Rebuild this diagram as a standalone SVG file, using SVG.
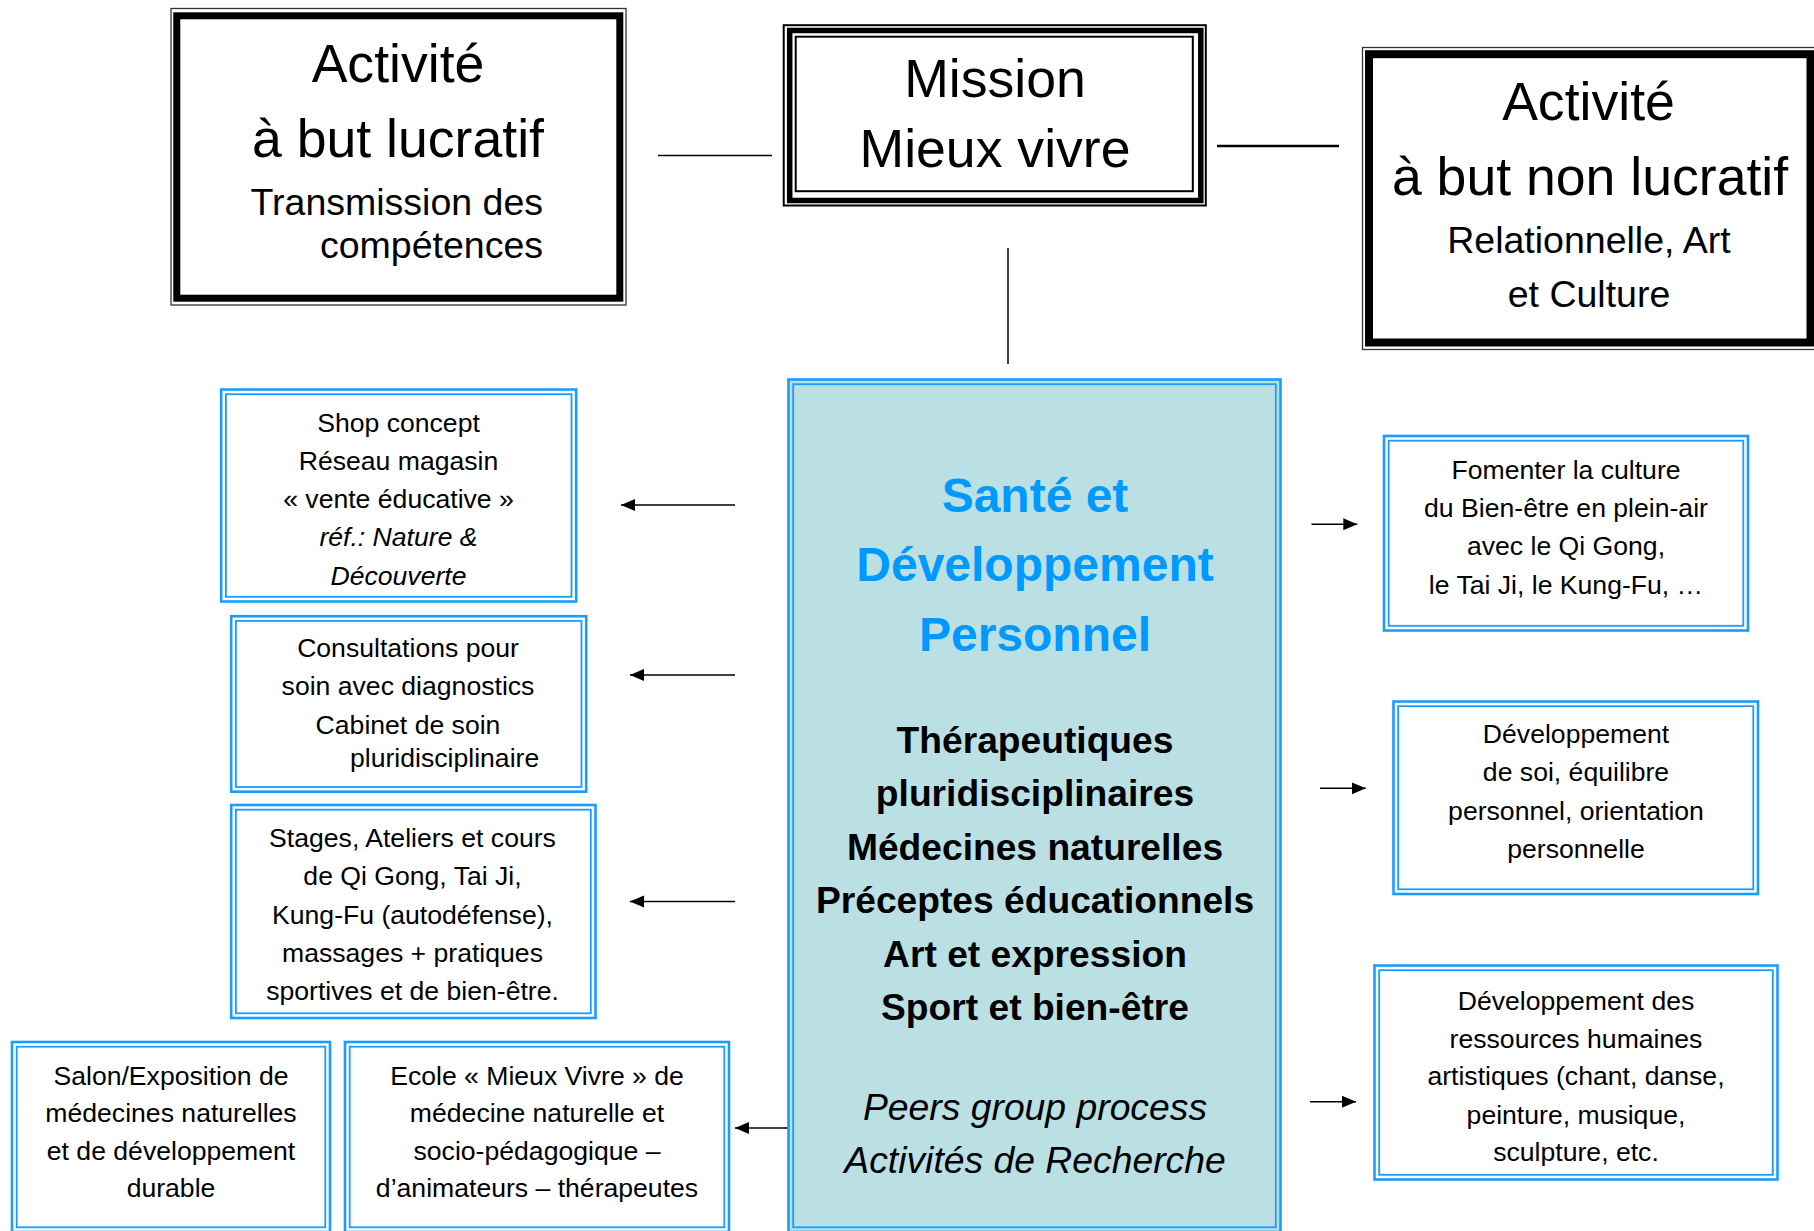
<svg xmlns="http://www.w3.org/2000/svg" width="1814" height="1231" viewBox="0 0 1814 1231">
<defs>
<style>
text{font-family:"Liberation Sans",Arial,sans-serif;fill:#000;text-anchor:middle}
.big{font-size:53.6px}
.mid{font-size:37.5px}
.sm{font-size:26.6px}
.it{font-style:italic}
.title{font-size:48px;font-weight:bold;fill:#0099ff}
.bold{font-size:37.2px;font-weight:bold}
.peer{font-size:37.3px;font-style:italic}
.bo{fill:none;stroke:#1a9cff;stroke-width:2.6}
.bi{fill:none;stroke:#1a9cff;stroke-width:1.8}
.thin{fill:none;stroke:#333;stroke-width:1.3}
.thick{fill:none;stroke:#000}
.conn{stroke:#000;stroke-width:1.5;fill:none}
</style>
<marker id="ah" markerUnits="userSpaceOnUse" markerWidth="16" markerHeight="14" refX="14" refY="6" orient="auto">
<path d="M0,0 L14,6 L0,12 z" fill="#000"/>
</marker>
</defs>
<rect width="1814" height="1231" fill="#fff"/>

<g id="connectors">
<line class="conn" x1="658" y1="155.5" x2="772" y2="155.5" style="stroke-width:1.3"/>
<line class="conn" x1="1217" y1="146" x2="1339" y2="146" style="stroke-width:2.5"/>
<line class="conn" x1="1008" y1="248" x2="1008" y2="364"/>
<line class="conn" x1="735" y1="505" x2="621" y2="505" marker-end="url(#ah)"/>
<line class="conn" x1="735" y1="675" x2="630" y2="675" marker-end="url(#ah)"/>
<line class="conn" x1="735" y1="901.5" x2="630" y2="901.5" marker-end="url(#ah)"/>
<line class="conn" x1="789" y1="1128" x2="735" y2="1128" marker-end="url(#ah)"/>
<line class="conn" x1="1311.5" y1="524.3" x2="1357.3" y2="524.3" marker-end="url(#ah)"/>
<line class="conn" x1="1320" y1="788.3" x2="1365.7" y2="788.3" marker-end="url(#ah)"/>
<line class="conn" x1="1310" y1="1101.7" x2="1356" y2="1101.7" marker-end="url(#ah)"/>
</g>

<g id="lucratif">
<rect class="thin" x="171" y="8.5" width="455" height="296.5"/>
<rect class="thick" x="176.8" y="15.8" width="443" height="282.4" stroke-width="7"/>
<text class="big" x="398" y="81.7">Activité</text>
<text class="big" x="398" y="156.7">à but lucratif</text>
<text class="mid" x="543" y="215" style="text-anchor:end">Transmission des</text>
<text class="mid" x="543" y="258.3" style="text-anchor:end">compétences</text>
</g>

<g id="mission">
<rect class="thick" x="783.7" y="25.2" width="422.1" height="180.3" stroke-width="2"/>
<rect class="thick" x="789.7" y="30.5" width="411.1" height="170" stroke-width="5.5"/>
<rect class="thick" x="795.7" y="36.7" width="397.1" height="154.5" stroke-width="2"/>
<text class="big" x="995" y="97">Mission</text>
<text class="big" x="995" y="167">Mieux vivre</text>
</g>

<g id="non-lucratif">
<rect class="thin" x="1362.5" y="47.5" width="460" height="302"/>
<rect class="thick" x="1369" y="54.2" width="441.5" height="288.3" stroke-width="8"/>
<text class="big" x="1588.5" y="120">Activité</text>
<text class="big" x="1590" y="195">à but non lucratif</text>
<text class="mid" x="1589" y="253.3">Relationnelle, Art</text>
<text class="mid" x="1589" y="306.7">et Culture</text>
</g>

<g id="centre">
<rect x="788.5" y="379.5" width="492" height="852.5" fill="#bae0e3" stroke="none"/>
<rect class="bo" x="788.5" y="379.5" width="492" height="852.5"/>
<rect class="bi" x="793.2" y="384.2" width="482.6" height="843.1"/>
<text class="title" x="1035" y="511.7">Santé et</text>
<text class="title" x="1035" y="580.7">Développement</text>
<text class="title" x="1035" y="651">Personnel</text>
<text class="bold" x="1035" y="753.3">Thérapeutiques</text>
<text class="bold" x="1035" y="806">pluridisciplinaires</text>
<text class="bold" x="1035" y="860">Médecines naturelles</text>
<text class="bold" x="1035" y="913.3">Préceptes éducationnels</text>
<text class="bold" x="1035" y="966.7">Art et expression</text>
<text class="bold" x="1035" y="1020">Sport et bien-être</text>
<text class="peer" x="1035" y="1120">Peers group process</text>
<text class="peer" x="1035" y="1173.3">Activités de Recherche</text>
</g>

<g id="shop">
<rect class="bo" x="221.2" y="389.5" width="355" height="212"/>
<rect class="bi" x="225.9" y="394.2" width="345.6" height="202.6"/>
<text class="sm" x="398.5" y="432">Shop concept</text>
<text class="sm" x="398.5" y="470">Réseau magasin</text>
<text class="sm" x="398.5" y="508">« vente éducative »</text>
<text class="sm it" x="398.5" y="546">réf.: Nature &amp;</text>
<text class="sm it" x="398.5" y="584.5">Découverte</text>
</g>

<g id="consultations">
<rect class="bo" x="231.2" y="616.2" width="355" height="175.5"/>
<rect class="bi" x="235.9" y="620.9" width="345.6" height="166.1"/>
<text class="sm" x="408" y="657">Consultations pour</text>
<text class="sm" x="408" y="695.3">soin avec diagnostics</text>
<text class="sm" x="408" y="733.6">Cabinet de soin</text>
<text class="sm" x="350" y="767" style="text-anchor:start">pluridisciplinaire</text>
</g>

<g id="stages">
<rect class="bo" x="231.2" y="805" width="364.3" height="213"/>
<rect class="bi" x="235.9" y="809.7" width="354.9" height="203.6"/>
<text class="sm" x="412.5" y="847">Stages, Ateliers et cours</text>
<text class="sm" x="412.5" y="885.3">de Qi Gong, Tai Ji,</text>
<text class="sm" x="412.5" y="923.6">Kung-Fu (autodéfense),</text>
<text class="sm" x="412.5" y="962">massages + pratiques</text>
<text class="sm" x="412.5" y="1000.3">sportives et de bien-être.</text>
</g>

<g id="salon">
<rect class="bo" x="12" y="1042" width="318" height="190"/>
<rect class="bi" x="16.7" y="1046.7" width="308.6" height="180.6"/>
<text class="sm" x="171" y="1085.3">Salon/Exposition de</text>
<text class="sm" x="171" y="1122">médecines naturelles</text>
<text class="sm" x="171" y="1160.3">et de développement</text>
<text class="sm" x="171" y="1197">durable</text>
</g>

<g id="ecole">
<rect class="bo" x="345" y="1042" width="384" height="190"/>
<rect class="bi" x="349.7" y="1046.7" width="374.6" height="180.6"/>
<text class="sm" x="537" y="1085.3">Ecole « Mieux Vivre » de</text>
<text class="sm" x="537" y="1122">médecine naturelle et</text>
<text class="sm" x="537" y="1160.3">socio-pédagogique –</text>
<text class="sm" x="537" y="1197">d’animateurs – thérapeutes</text>
</g>

<g id="fomenter">
<rect class="bo" x="1384" y="436" width="364" height="194.5"/>
<rect class="bi" x="1388.7" y="440.7" width="354.6" height="185.1"/>
<text class="sm" x="1566" y="479.3">Fomenter la culture</text>
<text class="sm" x="1566" y="517">du Bien-être en plein-air</text>
<text class="sm" x="1566" y="555.3">avec le Qi Gong,</text>
<text class="sm" x="1566" y="593.6">le Tai Ji, le Kung-Fu, …</text>
</g>

<g id="developpement-soi">
<rect class="bo" x="1393.5" y="701.5" width="364.5" height="192.5"/>
<rect class="bi" x="1398.2" y="706.2" width="355.1" height="183.1"/>
<text class="sm" x="1576" y="743">Développement</text>
<text class="sm" x="1576" y="781.3">de soi, équilibre</text>
<text class="sm" x="1576" y="819.6">personnel, orientation</text>
<text class="sm" x="1576" y="857.6">personnelle</text>
</g>

<g id="ressources">
<rect class="bo" x="1374.5" y="965.5" width="403" height="214"/>
<rect class="bi" x="1379.2" y="970.2" width="393.6" height="204.6"/>
<text class="sm" x="1576" y="1009.6">Développement des</text>
<text class="sm" x="1576" y="1047.6">ressources humaines</text>
<text class="sm" x="1576" y="1085.3">artistiques (chant, danse,</text>
<text class="sm" x="1576" y="1123.6">peinture, musique,</text>
<text class="sm" x="1576" y="1161">sculpture, etc.</text>
</g>
</svg>
